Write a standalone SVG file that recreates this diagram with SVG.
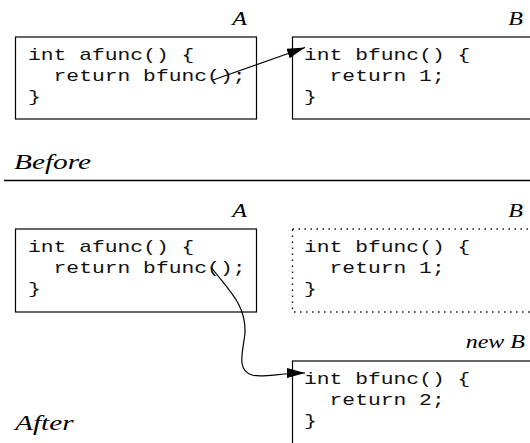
<svg xmlns="http://www.w3.org/2000/svg" width="530" height="443" viewBox="0 0 530 443">
  <style>
    .box { fill: #fff; stroke: #000; stroke-width: 1.2; }
    .dotted { fill: #fff; stroke: #000; stroke-width: 1.3; stroke-dasharray: 1.4 4.6; }
    .code { font-family: "Liberation Mono", "Courier New", monospace; font-size: 16px; fill: #111; }
    .lbl { font-family: "Liberation Serif", "Times New Roman", serif; font-style: italic; font-size: 18px; fill: #000; }
    .big { font-family: "Liberation Serif", "Times New Roman", serif; font-style: italic; font-size: 22px; fill: #000; }
    .conn { fill: none; stroke: #000; stroke-width: 1.2; }
    .rule { stroke: #000; stroke-width: 1.3; }
  </style>
  <defs>
    <marker id="head" viewBox="0 0 18 10" refX="18" refY="5" markerWidth="18" markerHeight="10" markerUnits="userSpaceOnUse" orient="auto">
      <path d="M0,0 L18,5 L0,10 z" fill="#000"/>
    </marker>
  </defs>

  <rect width="530" height="443" fill="#fff"/>

  <!-- Before: caller A -->
  <g id="before-a">
    <rect class="box" x="15.5" y="37" width="241" height="82"/>
    <g transform="translate(247,25) scale(1.333,1)"><text class="lbl" text-anchor="end">A</text></g>
    <g class="code" transform="translate(28,0) scale(1.333,1)">
      <text x="0" y="60">int afunc() {</text>
      <text x="19.2" y="81">return bfunc();</text>
      <text x="0" y="102">}</text>
    </g>
  </g>

  <!-- Before: callee B -->
  <g id="before-b">
    <rect class="box" x="292.5" y="37" width="260" height="82"/>
    <g transform="translate(523,25) scale(1.333,1)"><text class="lbl" text-anchor="end">B</text></g>
    <g class="code" transform="translate(304,0) scale(1.333,1)">
      <text x="0" y="60">int bfunc() {</text>
      <text x="19.2" y="81">return 1;</text>
      <text x="0" y="102">}</text>
    </g>
  </g>

  <g id="before-title">
    <g transform="translate(14,169) scale(1.333,1)"><text class="big">Before</text></g>
  </g>

  <line class="rule" x1="4" y1="180.5" x2="530" y2="180.5"/>

  <!-- After: caller A -->
  <g id="after-a">
    <rect class="box" x="15.5" y="229" width="241" height="83"/>
    <g transform="translate(247,217) scale(1.333,1)"><text class="lbl" text-anchor="end">A</text></g>
    <g class="code" transform="translate(28,0) scale(1.333,1)">
      <text x="0" y="252">int afunc() {</text>
      <text x="19.2" y="273">return bfunc();</text>
      <text x="0" y="294">}</text>
    </g>
  </g>

  <!-- After: old B, no longer used -->
  <g id="after-old-b">
    <rect class="dotted" x="292.5" y="229" width="260" height="83"/>
    <g transform="translate(523,217) scale(1.333,1)"><text class="lbl" text-anchor="end">B</text></g>
    <g class="code" transform="translate(304,0) scale(1.333,1)">
      <text x="0" y="252">int bfunc() {</text>
      <text x="19.2" y="273">return 1;</text>
      <text x="0" y="294">}</text>
    </g>
  </g>

  <!-- After: new B -->
  <g id="after-new-b">
    <rect class="box" x="292.5" y="361" width="260" height="100"/>
    <g transform="translate(525,348) scale(1.333,1)"><text class="lbl" text-anchor="end">new B</text></g>
    <g class="code" transform="translate(304,0) scale(1.333,1)">
      <text x="0" y="384">int bfunc() {</text>
      <text x="19.2" y="405">return 2;</text>
      <text x="0" y="426">}</text>
    </g>
  </g>

  <g id="after-title">
    <g transform="translate(15,430) scale(1.333,1)"><text class="big">After</text></g>
  </g>

  <!-- Calls from afunc to bfunc -->
  <g id="connectors">
    <path class="conn" d="M213,80 L305,47.5" marker-end="url(#head)"/>
    <path class="conn" d="M211,267 C230,292 246,305 245,333 C243,352 236,370 252,375 C262,378 280,373 305,373" marker-end="url(#head)"/>
  </g>
</svg>
